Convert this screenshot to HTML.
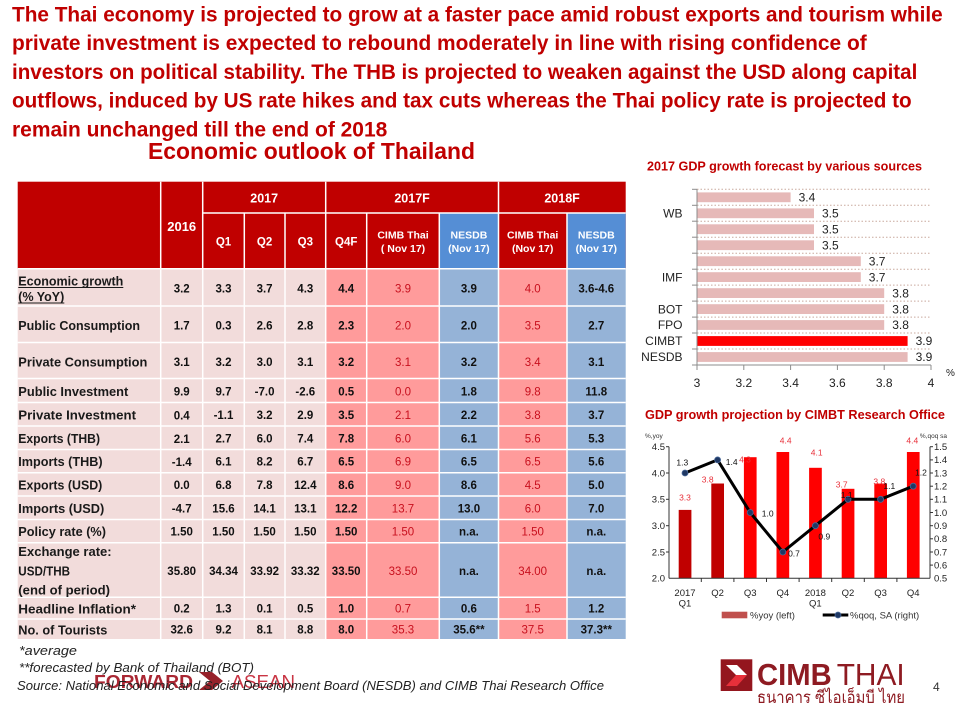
<!DOCTYPE html>
<html><head><meta charset="utf-8"><style>
html,body{margin:0;padding:0;background:#fff;}
svg{display:block;}
</style></head><body>
<svg width="960" height="720" viewBox="0 0 960 720" xmlns="http://www.w3.org/2000/svg" font-family="'Liberation Sans', sans-serif">
<rect width="960" height="720" fill="#fff"/>
<!-- Headline -->
<g font-weight="bold" font-size="21" fill="#C00000">
<text x="12" y="21.5" textLength="930.7" lengthAdjust="spacingAndGlyphs">The Thai economy is projected to grow at a faster pace amid robust exports and tourism while</text>
<text x="12" y="50.2" textLength="854.7" lengthAdjust="spacingAndGlyphs">private investment is expected to rebound moderately in line with rising confidence of</text>
<text x="12" y="79" textLength="905.3" lengthAdjust="spacingAndGlyphs">investors on political stability. The THB is projected to weaken against the USD along capital</text>
<text x="12" y="107.6" textLength="899.7" lengthAdjust="spacingAndGlyphs">outflows, induced by US rate hikes and tax cuts whereas the Thai policy rate is projected to</text>
<text x="12" y="136.3" textLength="375.3" lengthAdjust="spacingAndGlyphs">remain unchanged till the end of 2018</text>
<text x="148" y="159" font-size="23" textLength="327" lengthAdjust="spacingAndGlyphs">Economic outlook of Thailand</text>
</g>

<!-- TABLE -->
<rect x="17.7" y="181.7" width="608" height="87" fill="#C00000"/>
<rect x="439.3" y="213" width="59.2" height="55.7" fill="#558ED5"/>
<rect x="567" y="213" width="58.7" height="55.7" fill="#558ED5"/>
<rect x="17.7" y="268.7" width="308" height="370.3" fill="#F2DCDB"/>
<rect x="325.7" y="268.7" width="113.6" height="370.3" fill="#FF9B9B"/>
<rect x="439.3" y="268.7" width="59.2" height="370.3" fill="#95B3D7"/>
<rect x="498.5" y="268.7" width="68.5" height="370.3" fill="#FF9B9B"/>
<rect x="567" y="268.7" width="58.7" height="370.3" fill="#95B3D7"/>
<g stroke="#fff" stroke-width="1.5">
<line x1="202.7" y1="213" x2="625.7" y2="213"/>
<line x1="160.7" y1="181.7" x2="160.7" y2="639"/>
<line x1="202.7" y1="181.7" x2="202.7" y2="639"/>
<line x1="325.7" y1="181.7" x2="325.7" y2="639"/>
<line x1="498.5" y1="181.7" x2="498.5" y2="639"/>
<line x1="244.3" y1="213" x2="244.3" y2="639"/>
<line x1="285" y1="213" x2="285" y2="639"/>
<line x1="366.7" y1="213" x2="366.7" y2="639"/>
<line x1="439.3" y1="213" x2="439.3" y2="639"/>
<line x1="567" y1="213" x2="567" y2="639"/>
<line x1="17.7" y1="268.7" x2="625.7" y2="268.7"/>
<line x1="17.7" y1="306" x2="625.7" y2="306"/>
<line x1="17.7" y1="342.5" x2="625.7" y2="342.5"/>
<line x1="17.7" y1="378.5" x2="625.7" y2="378.5"/>
<line x1="17.7" y1="402.5" x2="625.7" y2="402.5"/>
<line x1="17.7" y1="426" x2="625.7" y2="426"/>
<line x1="17.7" y1="449.5" x2="625.7" y2="449.5"/>
<line x1="17.7" y1="472.7" x2="625.7" y2="472.7"/>
<line x1="17.7" y1="496" x2="625.7" y2="496"/>
<line x1="17.7" y1="519.5" x2="625.7" y2="519.5"/>
<line x1="17.7" y1="542.8" x2="625.7" y2="542.8"/>
<line x1="17.7" y1="597.2" x2="625.7" y2="597.2"/>
<line x1="17.7" y1="619" x2="625.7" y2="619"/>
</g>
<!-- header text -->
<g fill="#fff" font-weight="bold" text-anchor="middle">
<text x="264.2" y="202.5" font-size="12.5">2017</text>
<text x="412.1" y="202.5" font-size="12.5">2017F</text>
<text x="562.1" y="202.5" font-size="12.5">2018F</text>
<text x="181.7" y="231" font-size="13">2016</text>
<g font-size="11.5">
<text x="223.5" y="245.5">Q1</text>
<text x="264.6" y="245.5">Q2</text>
<text x="305.3" y="245.5">Q3</text>
<text x="346.2" y="245.5">Q4F</text>
</g>
<g font-size="10.5">
<text x="403" y="238.5">CIMB Thai</text><text x="403" y="252">( Nov 17)</text>
<text x="468.9" y="238.5">NESDB</text><text x="468.9" y="252">(Nov 17)</text>
<text x="532.7" y="238.5">CIMB Thai</text><text x="532.7" y="252">(Nov 17)</text>
<text x="596.3" y="238.5">NESDB</text><text x="596.3" y="252">(Nov 17)</text>
</g>
</g>
<!-- row labels -->
<g fill="#1a1a1a" font-weight="bold" font-size="13" lengthAdjust="spacingAndGlyphs">
<text x="18.3" y="285.5" textLength="105" lengthAdjust="spacingAndGlyphs">Economic growth</text>
<text x="18.3" y="301" textLength="46" lengthAdjust="spacingAndGlyphs">(% YoY)</text>
<line x1="18.3" y1="287.5" x2="123.3" y2="287.5" stroke="#1a1a1a" stroke-width="1"/>
<line x1="18.3" y1="303" x2="64.3" y2="303" stroke="#1a1a1a" stroke-width="1"/>
<text x="18.3" y="330" textLength="121.7" lengthAdjust="spacingAndGlyphs">Public Consumption</text>
<text x="18.3" y="366.5" textLength="129" lengthAdjust="spacingAndGlyphs">Private Consumption</text>
<text x="18.3" y="396" textLength="110" lengthAdjust="spacingAndGlyphs">Public Investment</text>
<text x="18.3" y="419.5" textLength="117.7" lengthAdjust="spacingAndGlyphs">Private Investment</text>
<text x="18.3" y="442.8" textLength="81.7" lengthAdjust="spacingAndGlyphs">Exports (THB)</text>
<text x="18.3" y="466" textLength="84.3" lengthAdjust="spacingAndGlyphs">Imports (THB)</text>
<text x="18.3" y="489.5" textLength="84" lengthAdjust="spacingAndGlyphs">Exports (USD)</text>
<text x="18.3" y="513" textLength="86" lengthAdjust="spacingAndGlyphs">Imports (USD)</text>
<text x="18.3" y="536" textLength="87.7" lengthAdjust="spacingAndGlyphs">Policy rate (%)</text>
<text x="18.3" y="556.2" textLength="93.3" lengthAdjust="spacingAndGlyphs">Exchange rate:</text>
<text x="18.3" y="575.5" textLength="51.7" lengthAdjust="spacingAndGlyphs">USD/THB</text>
<text x="18.3" y="594.5" textLength="91.7" lengthAdjust="spacingAndGlyphs">(end of period)</text>
<text x="18.3" y="613.5" textLength="117.7" lengthAdjust="spacingAndGlyphs">Headline Inflation*</text>
<text x="18.3" y="634.5" textLength="89" lengthAdjust="spacingAndGlyphs">No. of Tourists</text>
</g>
<!-- values -->
<g font-weight="bold" font-size="11.5" text-anchor="middle" fill="#111">
<g>
<text x="181.7" y="292.5">3.2</text><text x="223.5" y="292.5">3.3</text><text x="264.6" y="292.5">3.7</text><text x="305.3" y="292.5">4.3</text><text x="346.2" y="292.5">4.4</text><text x="468.9" y="292.5">3.9</text><text x="596.3" y="292.5">3.6-4.6</text>
<text x="181.7" y="329.5">1.7</text><text x="223.5" y="329.5">0.3</text><text x="264.6" y="329.5">2.6</text><text x="305.3" y="329.5">2.8</text><text x="346.2" y="329.5">2.3</text><text x="468.9" y="329.5">2.0</text><text x="596.3" y="329.5">2.7</text>
<text x="181.7" y="366">3.1</text><text x="223.5" y="366">3.2</text><text x="264.6" y="366">3.0</text><text x="305.3" y="366">3.1</text><text x="346.2" y="366">3.2</text><text x="468.9" y="366">3.2</text><text x="596.3" y="366">3.1</text>
<text x="181.7" y="395.5">9.9</text><text x="223.5" y="395.5">9.7</text><text x="264.6" y="395.5">-7.0</text><text x="305.3" y="395.5">-2.6</text><text x="346.2" y="395.5">0.5</text><text x="468.9" y="395.5">1.8</text><text x="596.3" y="395.5">11.8</text>
<text x="181.7" y="419.5">0.4</text><text x="223.5" y="419">-1.1</text><text x="264.6" y="419">3.2</text><text x="305.3" y="419">2.9</text><text x="346.2" y="419">3.5</text><text x="468.9" y="419">2.2</text><text x="596.3" y="419">3.7</text>
<text x="181.7" y="443">2.1</text><text x="223.5" y="442.3">2.7</text><text x="264.6" y="442.3">6.0</text><text x="305.3" y="442.3">7.4</text><text x="346.2" y="442.3">7.8</text><text x="468.9" y="442.3">6.1</text><text x="596.3" y="442.3">5.3</text>
<text x="181.7" y="466">-1.4</text><text x="223.5" y="465.5">6.1</text><text x="264.6" y="465.5">8.2</text><text x="305.3" y="465.5">6.7</text><text x="346.2" y="465.5">6.5</text><text x="468.9" y="465.5">6.5</text><text x="596.3" y="465.5">5.6</text>
<text x="181.7" y="489">0.0</text><text x="223.5" y="489">6.8</text><text x="264.6" y="489">7.8</text><text x="305.3" y="489">12.4</text><text x="346.2" y="489">8.6</text><text x="468.9" y="489">8.6</text><text x="596.3" y="489">5.0</text>
<text x="181.7" y="512.5">-4.7</text><text x="223.5" y="512.5">15.6</text><text x="264.6" y="512.5">14.1</text><text x="305.3" y="512.5">13.1</text><text x="346.2" y="512.5">12.2</text><text x="468.9" y="512.5">13.0</text><text x="596.3" y="512.5">7.0</text>
<text x="181.7" y="535.5">1.50</text><text x="223.5" y="535.5">1.50</text><text x="264.6" y="535.5">1.50</text><text x="305.3" y="535.5">1.50</text><text x="346.2" y="535.5">1.50</text><text x="468.9" y="535.5">n.a.</text><text x="596.3" y="535.5">n.a.</text>
<text x="181.7" y="575">35.80</text><text x="223.5" y="575">34.34</text><text x="264.6" y="575">33.92</text><text x="305.3" y="575">33.32</text><text x="346.2" y="575">33.50</text><text x="468.9" y="575">n.a.</text><text x="596.3" y="575">n.a.</text>
<text x="181.7" y="612.5">0.2</text><text x="223.5" y="612.5">1.3</text><text x="264.6" y="612.5">0.1</text><text x="305.3" y="612.5">0.5</text><text x="346.2" y="612.5">1.0</text><text x="468.9" y="612.5">0.6</text><text x="596.3" y="612.5">1.2</text>
<text x="181.7" y="633.5">32.6</text><text x="223.5" y="633.5">9.2</text><text x="264.6" y="633.5">8.1</text><text x="305.3" y="633.5">8.8</text><text x="346.2" y="633.5">8.0</text><text x="468.9" y="633.5">35.6**</text><text x="596.3" y="633.5">37.3**</text>
</g>
<g fill="#C8101E" font-weight="normal">
<text x="403" y="292.5">3.9</text><text x="532.7" y="292.5">4.0</text>
<text x="403" y="329.5">2.0</text><text x="532.7" y="329.5">3.5</text>
<text x="403" y="366">3.1</text><text x="532.7" y="366">3.4</text>
<text x="403" y="395.5">0.0</text><text x="532.7" y="395.5">9.8</text>
<text x="403" y="419">2.1</text><text x="532.7" y="419">3.8</text>
<text x="403" y="442.3">6.0</text><text x="532.7" y="442.3">5.6</text>
<text x="403" y="465.5">6.9</text><text x="532.7" y="465.5">6.5</text>
<text x="403" y="489">9.0</text><text x="532.7" y="489">4.5</text>
<text x="403" y="512.5">13.7</text><text x="532.7" y="512.5">6.0</text>
<text x="403" y="535.5">1.50</text><text x="532.7" y="535.5">1.50</text>
<text x="403" y="575">33.50</text><text x="532.7" y="575">34.00</text>
<text x="403" y="612.5">0.7</text><text x="532.7" y="612.5">1.5</text>
<text x="403" y="633.5">35.3</text><text x="532.7" y="633.5">37.5</text>
</g>
</g>

<!-- footnotes -->
<g font-style="italic" font-size="12.5" fill="#222">
<text x="19" y="655" textLength="58" lengthAdjust="spacingAndGlyphs">*average</text>
<text x="19" y="672" textLength="235" lengthAdjust="spacingAndGlyphs">**forecasted by Bank of Thailand (BOT)</text>
</g>
<g opacity="0.9">
<text x="94" y="688" font-weight="bold" font-size="18" fill="#A0101E" textLength="99" lengthAdjust="spacingAndGlyphs">FORWARD</text>
<polygon points="199,672 212,672 223,681 212,690 199,690 210,681" fill="#8B0A14"/>
<text x="231.5" y="688" font-size="18" fill="#C42030" textLength="63.5" lengthAdjust="spacingAndGlyphs">ASEAN</text>
</g>
<text x="17" y="690" font-style="italic" font-size="12.5" fill="#222" textLength="587" lengthAdjust="spacingAndGlyphs">Source: National Economic and Social Development Board (NESDB) and  CIMB Thai Research Office</text>

<!-- BAR CHART: 2017 GDP forecast -->
<text x="647" y="170.5" font-weight="bold" font-size="12.5" fill="#C00000" textLength="275" lengthAdjust="spacingAndGlyphs">2017  GDP growth forecast by various sources</text>
<g stroke="#C9A99E" stroke-width="1" stroke-dasharray="1.5,2">
<line x1="697" y1="189.3" x2="931" y2="189.3"/>
<line x1="697" y1="205.3" x2="931" y2="205.3"/>
<line x1="697" y1="221.2" x2="931" y2="221.2"/>
<line x1="697" y1="237.2" x2="931" y2="237.2"/>
<line x1="697" y1="253.2" x2="931" y2="253.2"/>
<line x1="697" y1="269.2" x2="931" y2="269.2"/>
<line x1="697" y1="285.1" x2="931" y2="285.1"/>
<line x1="697" y1="301.1" x2="931" y2="301.1"/>
<line x1="697" y1="317.1" x2="931" y2="317.1"/>
<line x1="697" y1="333" x2="931" y2="333"/>
<line x1="697" y1="349" x2="931" y2="349"/>
</g>
<g fill="#E6B9B8">
<rect x="697" y="192.4" width="93.6" height="9.8"/>
<rect x="697" y="208.4" width="117" height="9.8"/>
<rect x="697" y="224.3" width="117" height="9.8"/>
<rect x="697" y="240.3" width="117" height="9.8"/>
<rect x="697" y="256.3" width="163.8" height="9.8"/>
<rect x="697" y="272.2" width="163.8" height="9.8"/>
<rect x="697" y="288.2" width="187.2" height="9.8"/>
<rect x="697" y="304.2" width="187.2" height="9.8"/>
<rect x="697" y="320.1" width="187.2" height="9.8"/>
<rect x="697" y="336.1" width="210.6" height="9.8" fill="#FF0000"/>
<rect x="697" y="352.1" width="210.6" height="9.8"/>
</g>
<g stroke="#8C8C8C" stroke-width="1">
<line x1="697" y1="189.3" x2="697" y2="365"/>
<line x1="697" y1="365" x2="931" y2="365"/>
<line x1="692" y1="189.3" x2="697" y2="189.3"/><line x1="692" y1="205.3" x2="697" y2="205.3"/><line x1="692" y1="221.2" x2="697" y2="221.2"/><line x1="692" y1="237.2" x2="697" y2="237.2"/><line x1="692" y1="253.2" x2="697" y2="253.2"/><line x1="692" y1="269.2" x2="697" y2="269.2"/><line x1="692" y1="285.1" x2="697" y2="285.1"/><line x1="692" y1="301.1" x2="697" y2="301.1"/><line x1="692" y1="317.1" x2="697" y2="317.1"/><line x1="692" y1="333" x2="697" y2="333"/><line x1="692" y1="349" x2="697" y2="349"/><line x1="692" y1="365" x2="697" y2="365"/>
<line x1="697" y1="365" x2="697" y2="370"/><line x1="743.8" y1="365" x2="743.8" y2="370"/><line x1="790.6" y1="365" x2="790.6" y2="370"/><line x1="837.4" y1="365" x2="837.4" y2="370"/><line x1="884.2" y1="365" x2="884.2" y2="370"/><line x1="931" y1="365" x2="931" y2="370"/>
</g>
<g font-size="12" fill="#222">
<text x="798.6" y="201.5">3.4</text>
<text x="822" y="217.5">3.5</text>
<text x="822" y="233.4">3.5</text>
<text x="822" y="249.4">3.5</text>
<text x="868.8" y="265.4">3.7</text>
<text x="868.8" y="281.3">3.7</text>
<text x="892.2" y="297.3">3.8</text>
<text x="892.2" y="313.3">3.8</text>
<text x="892.2" y="329.2">3.8</text>
<text x="915.6" y="345.2">3.9</text>
<text x="915.6" y="361.2">3.9</text>
</g>
<g font-size="12" fill="#222" text-anchor="end">
<text x="682.5" y="217.5">WB</text>
<text x="682.5" y="281.3">IMF</text>
<text x="682.5" y="313.3">BOT</text>
<text x="682.5" y="329.2">FPO</text>
<text x="682.5" y="345.2">CIMBT</text>
<text x="682.5" y="361.2">NESDB</text>
</g>
<g font-size="12" fill="#222" text-anchor="middle">
<text x="697" y="387">3</text><text x="743.8" y="387">3.2</text><text x="790.6" y="387">3.4</text><text x="837.4" y="387">3.6</text><text x="884.2" y="387">3.8</text><text x="931" y="387">4</text>
</g>
<text x="946" y="376" font-size="10" fill="#222">%</text>

<!-- LINE/BAR CHART: GDP projection -->
<text x="645" y="419" font-weight="bold" font-size="13" fill="#C00000" textLength="300" lengthAdjust="spacingAndGlyphs">GDP growth projection by CIMBT Research Office</text>
<text x="645" y="438" font-size="6.5" fill="#333">%,yoy</text>
<text x="947" y="438" font-size="6.5" fill="#333" text-anchor="end">%,qoq sa</text>
<g>
<rect x="678.7" y="509.9" width="12.7" height="68.4" fill="#C00000"/>
<rect x="711.3" y="483.5" width="12.7" height="94.8" fill="#C00000"/>
<rect x="743.9" y="457.2" width="12.7" height="121.1" fill="#FF0000"/>
<rect x="776.5" y="452" width="12.7" height="126.3" fill="#FF0000"/>
<rect x="809.1" y="467.8" width="12.7" height="110.5" fill="#FF0000"/>
<rect x="841.7" y="488.8" width="12.7" height="89.5" fill="#FF0000"/>
<rect x="874.3" y="483.5" width="12.7" height="94.8" fill="#FF0000"/>
<rect x="906.9" y="452" width="12.7" height="126.3" fill="#FF0000"/>
</g>
<g stroke="#333" stroke-width="1">
<line x1="669" y1="446.7" x2="669" y2="578.3"/>
<line x1="930" y1="446.7" x2="930" y2="578.3"/>
<line x1="669" y1="578.3" x2="930" y2="578.3"/>
<line x1="666" y1="446.7" x2="669" y2="446.7"/><line x1="666" y1="473" x2="669" y2="473"/><line x1="666" y1="499.3" x2="669" y2="499.3"/><line x1="666" y1="525.7" x2="669" y2="525.7"/><line x1="666" y1="552" x2="669" y2="552"/>
<line x1="930" y1="446.7" x2="933" y2="446.7"/><line x1="930" y1="459.9" x2="933" y2="459.9"/><line x1="930" y1="473" x2="933" y2="473"/><line x1="930" y1="486.2" x2="933" y2="486.2"/><line x1="930" y1="499.3" x2="933" y2="499.3"/><line x1="930" y1="512.5" x2="933" y2="512.5"/><line x1="930" y1="525.7" x2="933" y2="525.7"/><line x1="930" y1="538.8" x2="933" y2="538.8"/><line x1="930" y1="552" x2="933" y2="552"/><line x1="930" y1="565.1" x2="933" y2="565.1"/>
<line x1="701.3" y1="578.3" x2="701.3" y2="582"/><line x1="733.9" y1="578.3" x2="733.9" y2="582"/><line x1="766.5" y1="578.3" x2="766.5" y2="582"/><line x1="799.1" y1="578.3" x2="799.1" y2="582"/><line x1="831.7" y1="578.3" x2="831.7" y2="582"/><line x1="864.3" y1="578.3" x2="864.3" y2="582"/><line x1="896.9" y1="578.3" x2="896.9" y2="582"/>
</g>
<g font-size="9.5" fill="#222" text-anchor="end">
<text x="665" y="450">4.5</text><text x="665" y="476.3">4.0</text><text x="665" y="502.6">3.5</text><text x="665" y="529">3.0</text><text x="665" y="555.3">2.5</text><text x="665" y="581.6">2.0</text>
</g>
<g font-size="9.5" fill="#222">
<text x="934" y="450">1.5</text><text x="934" y="463.2">1.4</text><text x="934" y="476.3">1.3</text><text x="934" y="489.5">1.2</text><text x="934" y="502.6">1.1</text><text x="934" y="515.8">1.0</text><text x="934" y="529">0.9</text><text x="934" y="542.1">0.8</text><text x="934" y="555.3">0.7</text><text x="934" y="568.4">0.6</text><text x="934" y="581.6">0.5</text>
</g>
<polyline points="685,473 717.6,459.9 750.2,512.5 782.8,552 815.4,525.7 848,499.3 880.6,499.3 913.2,486.2" fill="none" stroke="#000" stroke-width="3" stroke-linejoin="round"/>
<g fill="#1F3864" stroke="#4A6A9A" stroke-width="0.8">
<circle cx="685" cy="473" r="3"/><circle cx="717.6" cy="459.9" r="3"/><circle cx="750.2" cy="512.5" r="3"/><circle cx="782.8" cy="552" r="3"/><circle cx="815.4" cy="525.7" r="3"/><circle cx="848" cy="499.3" r="3"/><circle cx="880.6" cy="499.3" r="3"/><circle cx="913.2" cy="486.2" r="3"/>
</g>
<g font-size="8.5" fill="#E8303A" text-anchor="middle">
<text x="685" y="500.7">3.3</text><text x="707.7" y="482.3">3.8</text><text x="745" y="462.3">4.3</text><text x="785.7" y="443.7">4.4</text><text x="816.7" y="455.7">4.1</text><text x="841.7" y="487.3">3.7</text><text x="879.3" y="484.7">3.8</text><text x="912.3" y="443.7">4.4</text>
</g>
<g font-size="8.5" fill="#111" text-anchor="middle">
<text x="682.3" y="465.7">1.3</text><text x="731.7" y="465">1.4</text><text x="767.7" y="516.3">1.0</text><text x="794" y="556.3">0.7</text><text x="824.3" y="539.7">0.9</text><text x="846.7" y="498">1.1</text><text x="889.3" y="489">1.1</text><text x="921" y="475.7">1.2</text>
</g>
<g font-size="9.5" fill="#222" text-anchor="middle">
<text x="685" y="596">2017</text><text x="685" y="606.5">Q1</text>
<text x="717.6" y="596">Q2</text><text x="750.2" y="596">Q3</text><text x="782.8" y="596">Q4</text>
<text x="815.4" y="596">2018</text><text x="815.4" y="606.5">Q1</text>
<text x="848" y="596">Q2</text><text x="880.6" y="596">Q3</text><text x="913.2" y="596">Q4</text>
</g>
<rect x="721.7" y="611.7" width="25.6" height="6.6" fill="#C0504D"/>
<text x="750" y="618.5" font-size="9.5" fill="#333">%yoy (left)</text>
<line x1="822.7" y1="615" x2="848.3" y2="615" stroke="#000" stroke-width="3"/>
<circle cx="838" cy="615" r="3" fill="#1F3864" stroke="#4A6A9A" stroke-width="0.8"/>
<text x="850" y="618.5" font-size="9.5" fill="#333">%qoq, SA (right)</text>

<!-- Logo -->
<rect x="720.7" y="659.3" width="31.6" height="31.7" fill="#94161E"/>
<polygon points="726,665 737,665 747,675 736,675" fill="#fff"/>
<polygon points="736,675 747,675 737,686 726,686" fill="#E8303A"/>
<text x="757" y="685" font-weight="bold" font-size="31" fill="#8E1B22" textLength="74.7" lengthAdjust="spacingAndGlyphs">CIMB</text>
<text x="836.7" y="685" font-size="31" fill="#8E1B22" textLength="68" lengthAdjust="spacingAndGlyphs">THAI</text>
<text x="757" y="703" font-size="17" fill="#8E1B22" textLength="148" lengthAdjust="spacingAndGlyphs" font-family="'Liberation Sans', 'DejaVu Sans', sans-serif">ธนาคาร ซีไอเอ็มบี ไทย</text>
<text x="933" y="691" font-size="12" fill="#333">4</text>
</svg>
</body></html>
